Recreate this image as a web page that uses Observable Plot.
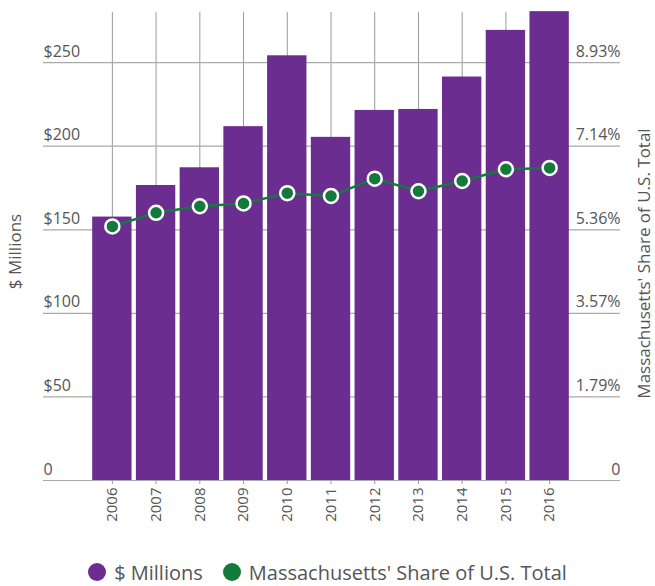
<!DOCTYPE html>
<html>
<head>
<meta charset="utf-8">
<script src="https://cdn.jsdelivr.net/npm/d3@7"></script>
<script src="https://cdn.jsdelivr.net/npm/@observablehq/plot@0.6"></script>
<style>
  body { margin: 0; background: #fff; font-family: "Open Sans", sans-serif; }
  #legend { display: flex; justify-content: center; align-items: center; gap: 20px; font-size: 20px; color: #555; height: 40px; margin-top: 7px; margin-left: 0px; }
  .sw { width: 18px; height: 18px; border-radius: 50%; display: inline-block; }
  .item { display: flex; align-items: center; gap: 8px; }
</style>
</head>
<body>
<div id="chart"></div>
<div id="legend"></div>
<script>
const years = ["2006","2007","2008","2009","2010","2011","2012","2013","2014","2015","2016"];
const millions = [157.6, 176.5, 187.1, 211.7, 254.1, 205.3, 221.4, 222.0, 241.4, 269.3, 280.5];
const sharePct = [5.43, 5.72, 5.86, 5.92, 6.14, 6.08, 6.45, 6.18, 6.40, 6.65, 6.68];
const leftTicks = [0, 50, 100, 150, 200, 250];
const leftLabels = ["0", "$50", "$100", "$150", "$200", "$250"];
const rightLabels = ["0", "1.79%", "3.57%", "5.36%", "7.14%", "8.93%"];
const yMax = 280;      // left-axis top
const pctMax = 10;     // right-axis top (%)

const purple = "#6b2d8f";
const green = "#137a3b";
const grey = "#555";

const data = years.map((y, i) => ({year: y, value: millions[i], share: sharePct[i]}));
const ticks = leftTicks.map((v, i) => ({v, left: leftLabels[i], right: rightLabels[i]}));

const chart = Plot.plot({
  width: 655,
  height: 545,
  marginLeft: 43,
  marginRight: 35,
  marginTop: 12,
  marginBottom: 65,
  style: {fontFamily: "Open Sans", fontSize: "15px", color: grey, background: "white"},
  x: {domain: years, round: false, paddingInner: 0.1, paddingOuter: 0.05, insetLeft: 47, insetRight: 49, axis: null},
  y: {domain: [0, yMax], axis: null},
  marks: [
    Plot.gridX(years, {stroke: "#999", strokeOpacity: 1, strokeWidth: 1}),
    Plot.gridY(leftTicks, {stroke: "#aaa", strokeOpacity: 1, strokeWidth: 1.2}),
    Plot.axisX({tickRotate: -90, tickSize: 4, tickPadding: 3, stroke: "#999", fill: grey, fontSize: 15, label: null}),
    Plot.barY(data, {x: "year", y: "value", fill: purple}),
    Plot.line(data, {x: "year", y: d => d.share * yMax / pctMax, stroke: green, strokeWidth: 2.5}),
    Plot.dot(data, {x: "year", y: d => d.share * yMax / pctMax, r: 7, fill: green, stroke: "white", strokeWidth: 2.5}),
    Plot.text(ticks, {y: "v", text: "left", frameAnchor: "left", textAnchor: "start", dy: -11, fontSize: 16, fill: grey}),
    Plot.text(ticks, {y: "v", text: "right", frameAnchor: "right", textAnchor: "end", dy: -11, fontSize: 16, fill: grey}),
    Plot.text(["$ Millions"], {frameAnchor: "left", textAnchor: "middle", rotate: -90, dx: -28, dy: 5, fontSize: 17, fill: grey}),
    Plot.text(["Massachusetts' Share of U.S. Total"], {frameAnchor: "right", textAnchor: "middle", rotate: -90, dx: 24, dy: 17, fontSize: 17, fill: grey})
  ]
});
document.getElementById("chart").appendChild(chart);

const legendItems = [["$ Millions", purple], ["Massachusetts' Share of U.S. Total", green]];
const legend = document.getElementById("legend");
for (const [label, color] of legendItems) {
  const item = document.createElement("span");
  item.className = "item";
  const sw = document.createElement("span");
  sw.className = "sw";
  sw.style.background = color;
  const t = document.createElement("span");
  t.textContent = label;
  item.appendChild(sw);
  item.appendChild(t);
  legend.appendChild(item);
}
</script>
</body>
</html>
